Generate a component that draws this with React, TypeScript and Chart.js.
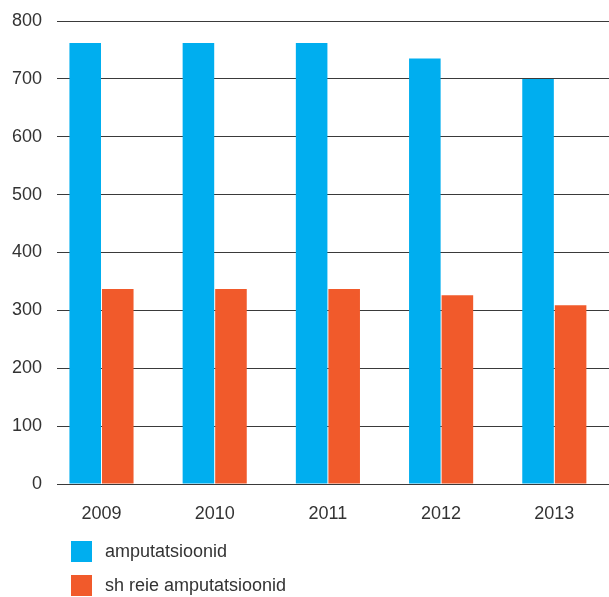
import React, { useEffect, useRef } from 'react';
import { Chart, registerables } from 'chart.js';

Chart.register(...registerables);

const years = ['2009', '2010', '2011', '2012', '2013'];
const amputations = [762, 762, 762, 735, 700];
const thighAmputations = [337, 337, 337, 326, 309];
const yTicks = [0, 100, 200, 300, 400, 500, 600, 700, 800];

const seriesNames = ['amputatsioonid', 'sh reie amputatsioonid'];
const seriesColors = ['#00AEEF', '#F15A2B'];

const FONT = "'Liberation Sans', Arial, sans-serif";

const App: React.FC = () => {
  const chartRef = useRef<HTMLCanvasElement | null>(null);

  useEffect(() => {
    if (!chartRef.current) return;
    const ctx = chartRef.current.getContext('2d');
    if (!ctx) return;

    const toPoints = (vals: number[]) => vals.map((v, i) => ({ x: i, y: v }));

    const myChart = new Chart(ctx, {
      type: 'bar',
      data: {
        datasets: [
          {
            label: seriesNames[0],
            data: toPoints(amputations),
            backgroundColor: seriesColors[0],
            categoryPercentage: 0.575,
            barPercentage: 0.97,
          },
          {
            label: seriesNames[1],
            data: toPoints(thighAmputations),
            backgroundColor: seriesColors[1],
            categoryPercentage: 0.575,
            barPercentage: 0.97,
          },
        ],
      },
      options: {
        animation: false,
        responsive: true,
        maintainAspectRatio: false,
        layout: { padding: { top: 21, left: 0, right: 0, bottom: 0 } },
        plugins: {
          legend: { display: false },
          tooltip: { enabled: false },
        },
        scales: {
          x: {
            type: 'linear',
            offset: false,
            min: -0.393,
            max: 4.483,
            grid: { display: false },
            border: { display: false },
            afterBuildTicks: (scale: any) => {
              scale.ticks = years.map((_, i) => ({ value: i }));
            },
            afterFit: (scale: any) => {
              scale.height = 113;
              scale.paddingLeft = 0;
              scale.paddingRight = 0;
            },
            ticks: {
              padding: 11,
              color: '#333',
              font: { family: FONT, size: 18 },
              callback: (v: any) => years[v as number],
            },
          },
          y: {
            min: 0,
            max: 800,
            afterBuildTicks: (scale: any) => {
              scale.ticks = yTicks.map((v) => ({ value: v }));
            },
            afterFit: (scale: any) => {
              scale.width = 57;
              scale.paddingTop = 0;
              scale.paddingBottom = 0;
            },
            grid: {
              color: '#3a3a3a',
              lineWidth: 1,
              drawTicks: false,
            },
            border: { display: false },
            ticks: {
              padding: 15,
              color: '#333',
              font: { family: FONT, size: 18 },
            },
          },
        },
      },
    });

    return () => {
      myChart.destroy();
    };
  }, []);

  return (
    <div style={{ position: 'absolute', left: 0, top: 0, width: 609, height: 597, background: '#fff' }}>
      <canvas ref={chartRef} />
      <div style={{ position: 'absolute', left: 71, top: 541, fontFamily: FONT, fontSize: 18, color: '#333' }}>
        {seriesNames.map((name, i) => (
          <div key={name} style={{ display: 'flex', alignItems: 'center', height: 21, marginBottom: 13 }}>
            <span style={{ display: 'inline-block', width: 21, height: 21, background: seriesColors[i], marginRight: 13 }} />
            <span>{name}</span>
          </div>
        ))}
      </div>
    </div>
  );
};

export default App;
